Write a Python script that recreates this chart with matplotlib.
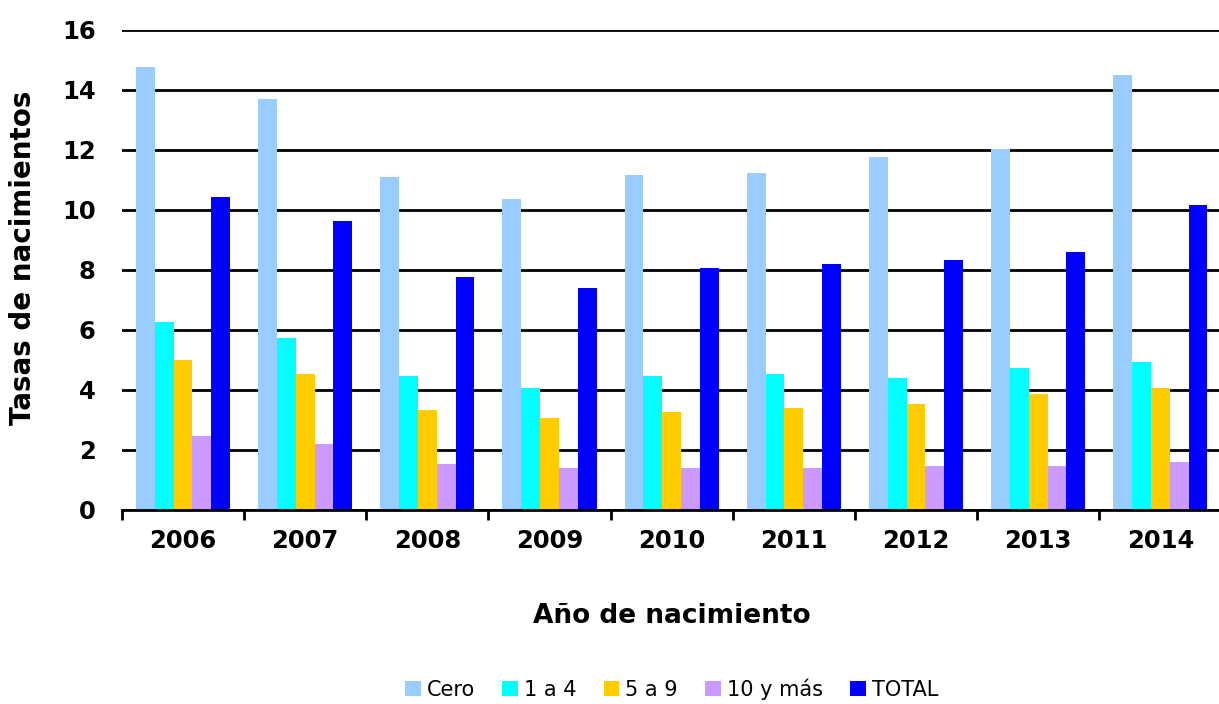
import numpy as np
import matplotlib.pyplot as plt
from matplotlib.ticker import FixedLocator

years = ['2006', '2007', '2008', '2009', '2010', '2011', '2012', '2013', '2014']
series_names = ['Cero', '1 a 4', '5 a 9', '10 y más', 'TOTAL']
cero = [14.78, 13.70, 11.11, 10.37, 11.18, 11.24, 11.77, 12.04, 14.51]
uno_a_cuatro = [6.26, 5.72, 4.46, 4.06, 4.46, 4.52, 4.39, 4.72, 4.92]
cinco_a_nueve = [4.99, 4.53, 3.33, 3.07, 3.26, 3.40, 3.52, 3.87, 4.06]
diez_y_mas = [2.47, 2.20, 1.53, 1.39, 1.39, 1.39, 1.47, 1.47, 1.60]
total = [10.44, 9.64, 7.78, 7.39, 8.06, 8.19, 8.32, 8.59, 10.18]
colors = ['#99CCFF', '#00FFFF', '#FFCC00', '#CC99FF', '#0000FF']

# wide sans to mimic the stretched Arial of the original
plt.rcParams['font.family'] = ['DejaVu Sans']

fig = plt.figure(figsize=(12.19, 7.04), dpi=100)
ax = fig.add_axes([0.1, 0.2756, 0.902, 0.6818])

x = np.arange(len(years))
w = 0.154
data = [cero, uno_a_cuatro, cinco_a_nueve, diez_y_mas, total]
for i, (vals, name, c) in enumerate(zip(data, series_names, colors)):
    ax.bar(x + (i - 2) * w, vals, w, color=c, label=name, zorder=3)

ax.set_xlim(-0.5, len(years) - 0.5)
ax.set_ylim(0, 16)
ax.set_yticks(range(0, 17, 2))
ax.yaxis.grid(True, color='black', linewidth=2, zorder=0)
ax.set_axisbelow(True)

for s in ['left', 'right', 'top']:
    ax.spines[s].set_visible(False)
ax.spines['bottom'].set_linewidth(2)
ax.spines['bottom'].set_zorder(4)

ax.set_xticks(x)
ax.set_xticklabels(years, fontsize=17.5, fontweight='bold')
ax.xaxis.set_minor_locator(FixedLocator(np.arange(-0.5, len(years), 1)))
ax.tick_params(axis='x', which='major', length=0, pad=14)
ax.tick_params(axis='x', which='minor', length=7, width=2, direction='out')
ax.tick_params(axis='y', length=0, pad=19)
for lab in ax.get_yticklabels():
    lab.set_fontsize(17.5)
    lab.set_fontweight('bold')

ax.set_xlabel('Año de nacimiento', fontsize=19, fontweight='bold', labelpad=36)
ax.set_ylabel('Tasas de nacimientos', fontsize=20, fontweight='bold')
ax.yaxis.set_label_coords(-0.077, 0.525)

ax.legend(loc='center', bbox_to_anchor=(0.5, -0.373), ncol=5, frameon=False,
          fontsize=15, handlelength=0.75, handleheight=0.75, handletextpad=0.3,
          columnspacing=1.3)

fig.savefig('out.png', dpi=100)
